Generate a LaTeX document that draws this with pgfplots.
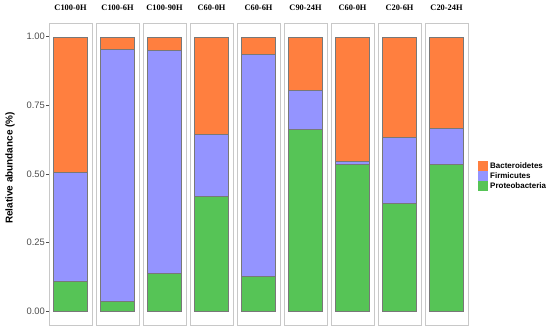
\documentclass[border=0pt]{standalone}
\usepackage{fontspec}
\setmainfont{Liberation Serif}
\newfontfamily\lsans{Liberation Sans}
\usepackage{pgfplots}
\pgfplotsset{compat=1.18}
\definecolor{cB}{RGB}{255,127,63}
\definecolor{cF}{RGB}{148,148,255}
\definecolor{cP}{RGB}{86,196,86}
\definecolor{frame}{RGB}{200,200,200}
\definecolor{barline}{RGB}{120,120,120}
\definecolor{tickc}{RGB}{77,77,77}
\pgfplotsset{
 panel/.style={
   at={(#1,7bp)}, anchor=south west, scale only axis, width=43bp, height=302bp,
   xmin=-0.6, xmax=0.6, ymin=-0.05, ymax=1.05,
   ybar stacked, bar width=34bp,
   xtick=\empty, ytick=\empty,
   axis line style={frame, line width=0.9bp},
   every axis title shift=0pt,
   title style={font=\bfseries\fontsize{8.4}{10}\selectfont, at={(rel axis cs:0.5,1)}, anchor=center, yshift=15bp},
   every axis plot/.append style={draw=barline, line width=0.4bp},
 },
}
\begin{document}
\begin{tikzpicture}
\useasboundingbox (0,0) rectangle (550bp,332bp);
% 1
\begin{axis}[panel=49bp, title={C100-0H},
  ytick={0,0.25,0.5,0.75,1}, yticklabels={0.00,0.25,0.50,0.75,1.00},
  ytick pos=left, tick align=outside, major tick length=3bp,
  tick style={tickc, line width=0.5bp},
  yticklabel style={font=\lsans\fontsize{9.4}{11}\selectfont, text=tickc, inner sep=1bp},
  ylabel={Relative abundance (\%)},
  ylabel style={font=\lsans\bfseries\fontsize{10}{12}\selectfont, at={(rel axis cs:0,0.52)}, anchor=center, yshift=39bp}]
\addplot[fill=cP] coordinates {(0,0.110)};
\addplot[fill=cF] coordinates {(0,0.395)};
\addplot[fill=cB] coordinates {(0,0.495)};
\end{axis}
% 2
\begin{axis}[panel=96bp, title={C100-6H}]
\addplot[fill=cP] coordinates {(0,0.035)};
\addplot[fill=cF] coordinates {(0,0.918)};
\addplot[fill=cB] coordinates {(0,0.047)};
\end{axis}
% 3
\begin{axis}[panel=143bp, title={C100-90H}]
\addplot[fill=cP] coordinates {(0,0.138)};
\addplot[fill=cF] coordinates {(0,0.812)};
\addplot[fill=cB] coordinates {(0,0.050)};
\end{axis}
% 4
\begin{axis}[panel=190bp, title={C60-0H}]
\addplot[fill=cP] coordinates {(0,0.418)};
\addplot[fill=cF] coordinates {(0,0.226)};
\addplot[fill=cB] coordinates {(0,0.356)};
\end{axis}
% 5
\begin{axis}[panel=237bp, title={C60-6H}]
\addplot[fill=cP] coordinates {(0,0.129)};
\addplot[fill=cF] coordinates {(0,0.808)};
\addplot[fill=cB] coordinates {(0,0.063)};
\end{axis}
% 6
\begin{axis}[panel=284bp, title={C90-24H}]
\addplot[fill=cP] coordinates {(0,0.662)};
\addplot[fill=cF] coordinates {(0,0.145)};
\addplot[fill=cB] coordinates {(0,0.193)};
\end{axis}
% 7
\begin{axis}[panel=331bp, title={C60-0H}]
\addplot[fill=cP] coordinates {(0,0.535)};
\addplot[fill=cF] coordinates {(0,0.012)};
\addplot[fill=cB] coordinates {(0,0.453)};
\end{axis}
% 8
\begin{axis}[panel=378bp, title={C20-6H}]
\addplot[fill=cP] coordinates {(0,0.392)};
\addplot[fill=cF] coordinates {(0,0.242)};
\addplot[fill=cB] coordinates {(0,0.366)};
\end{axis}
% 9
\begin{axis}[panel=425bp, title={C20-24H},
  legend image code/.code={\fill[#1, draw=none] (0bp,-5bp) rectangle (10bp,5bp);},
  reverse legend,
  legend cell align=left,
  legend style={at={(rel axis cs:1.233,0.543)}, anchor=north west, draw=none, fill=none,
    font=\lsans\bfseries\fontsize{8}{9}\selectfont, row sep=0pt, column sep=2bp, inner sep=0pt,
    nodes={inner sep=0pt, text height=7bp, text depth=3bp}}]
\addplot[fill=cP] coordinates {(0,0.535)};
\addplot[fill=cF] coordinates {(0,0.132)};
\addplot[fill=cB] coordinates {(0,0.333)};
\legend{Proteobacteria,Firmicutes,Bacteroidetes}
\end{axis}
\end{tikzpicture}
\end{document}
